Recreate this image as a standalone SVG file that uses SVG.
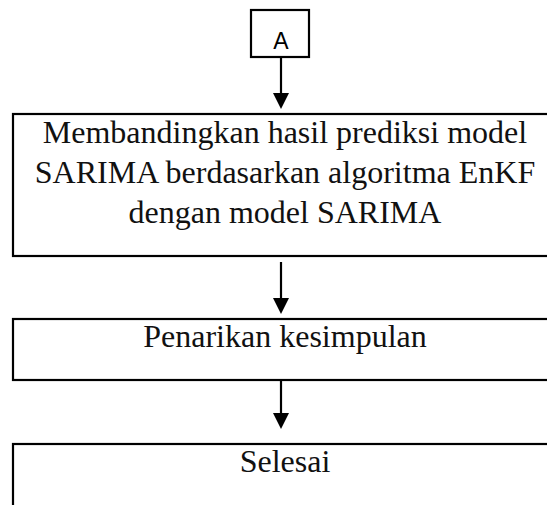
<svg xmlns="http://www.w3.org/2000/svg" width="547" height="505" viewBox="0 0 547 505">
  <style>
    .box { fill: #ffffff; stroke: #000000; stroke-width: 2.2; }
    .t { font-family: "Liberation Serif", "Times New Roman", serif; font-size: 32px; fill: #111111; text-anchor: middle; }
    .ta { font-family: "Liberation Sans", Arial, sans-serif; font-size: 23px; fill: #000000; text-anchor: middle; }
    .ln { stroke: #000000; stroke-width: 2.2; fill: none; }
    .hd { fill: #000000; stroke: none; }
  </style>
  <rect x="0" y="0" width="547" height="505" fill="#ffffff"/>
  <g id="node-a">
    <rect class="box" x="251" y="10" width="58" height="47"/>
    <text class="ta" x="281" y="49">A</text>
  </g>
  <g id="node-membandingkan">
    <rect class="box" x="13" y="114" width="560" height="142"/>
    <text class="t" x="285" y="143">Membandingkan hasil prediksi model</text>
    <text class="t" x="285" y="183">SARIMA berdasarkan algoritma EnKF</text>
    <text class="t" x="285" y="223">dengan model SARIMA</text>
  </g>
  <g id="node-penarikan">
    <rect class="box" x="13" y="319" width="560" height="61"/>
    <text class="t" x="285" y="347">Penarikan kesimpulan</text>
  </g>
  <g id="node-selesai">
    <rect class="box" x="13" y="444" width="560" height="80"/>
    <text class="t" x="285" y="472">Selesai</text>
  </g>
  <g id="connectors">
    <line class="ln" x1="281" y1="57" x2="281" y2="95"/>
    <polygon class="hd" points="273,93 289,93 281,109"/>
    <line class="ln" x1="281" y1="262" x2="281" y2="300"/>
    <polygon class="hd" points="273,298 289,298 281,314"/>
    <line class="ln" x1="281" y1="380" x2="281" y2="415"/>
    <polygon class="hd" points="273,413 289,413 281,429"/>
  </g>
</svg>
